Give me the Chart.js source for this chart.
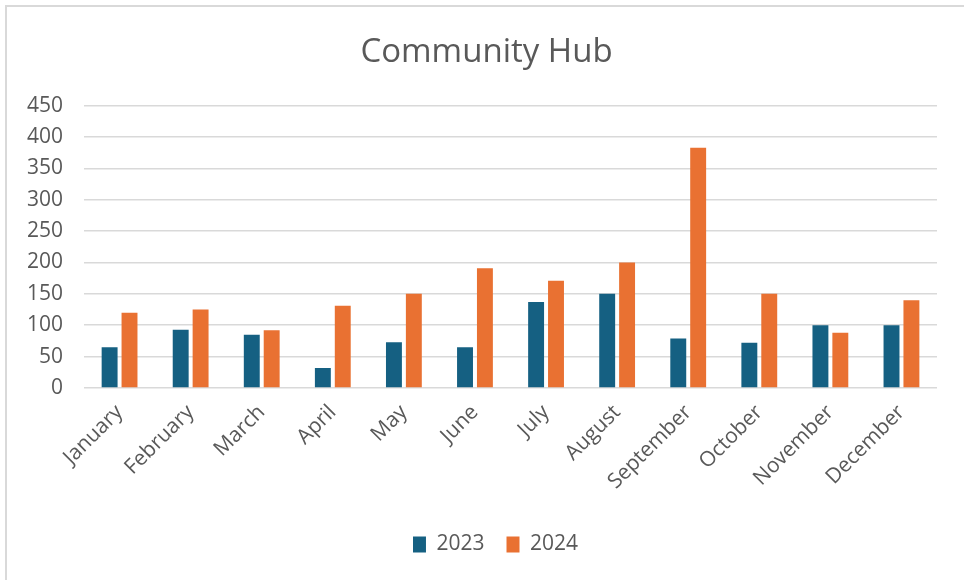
<!DOCTYPE html>
<html>
<head>
<meta charset="utf-8">
<script src="https://cdn.jsdelivr.net/npm/chart.js@4.4.1/dist/chart.umd.min.js"></script>
<style>
  html, body { margin: 0; padding: 0; background: #fff; }
  #frame { position: absolute; left: 5px; top: 5px; width: 980px; height: 600px;
           border-left: 2px solid #d9d9d9; border-top: 2px solid #d9d9d9; }
  #wrap { position: absolute; left: 0; top: 0; width: 964px; height: 580px; }
</style>
</head>
<body>
<div id="frame"></div>
<div id="wrap"><canvas id="chart" width="964" height="580"></canvas></div>
<script>
const months = ['January', 'February', 'March', 'April', 'May', 'June', 'July',
                'August', 'September', 'October', 'November', 'December'];
const values2023 = [65, 93, 85, 32, 73, 65, 137, 150, 79, 72, 100, 100];
const values2024 = [120, 125, 92, 131, 150, 191, 171, 200, 383, 150, 88, 140];
const seriesNames = ['2023', '2024'];

const textColor = '#595959';
const fontFamily = '"Open Sans", "Liberation Sans", sans-serif';

// title and legend sit centred on the whole frame, not on the padded box
const centreShift = {
    id: 'centreShift',
    afterLayout(chart) {
        chart.titleBlock.left += 15;
        chart.titleBlock.right += 15;
        chart.legend.left += 24;
        chart.legend.right += 24;
    }
};

new Chart(document.getElementById('chart').getContext('2d'), {
    type: 'bar',
    data: {
        labels: months,
        datasets: [
            { label: seriesNames[0], data: values2023, backgroundColor: '#156082' },
            { label: seriesNames[1], data: values2024, backgroundColor: '#E97132' }
        ]
    },
    options: {
        responsive: false,
        animation: false,
        datasets: { bar: { categoryPercentage: 0.56, barPercentage: 0.8 } },
        layout: { padding: { left: 6, right: 27, top: 0, bottom: 15 } },
        plugins: {
            title: {
                display: true,
                text: 'Community Hub',
                color: textColor,
                font: { family: fontFamily, size: 33, weight: 'normal' },
                padding: { top: 33, bottom: 33 }
            },
            legend: {
                position: 'bottom',
                labels: {
                    color: textColor,
                    font: { family: fontFamily, size: 21 },
                    boxWidth: 13,
                    boxHeight: 16,
                    padding: 22
                }
            },
            tooltip: { enabled: false }
        },
        scales: {
            x: {
                grid: { display: false },
                border: { display: false },
                ticks: {
                    color: textColor,
                    font: { family: fontFamily, size: 21 },
                    maxRotation: 45,
                    minRotation: 45,
                    padding: 4
                },
                afterFit: function(scale) { scale.height = 124; }
            },
            y: {
                min: 0,
                max: 450,
                grid: { color: '#d9d9d9', lineWidth: 1.5, drawTicks: false },
                border: { display: false },
                ticks: {
                    stepSize: 50,
                    color: textColor,
                    font: { family: fontFamily, size: 21 },
                    padding: 21
                }
            }
        }
    },
    plugins: [centreShift]
});
</script>
</body>
</html>
